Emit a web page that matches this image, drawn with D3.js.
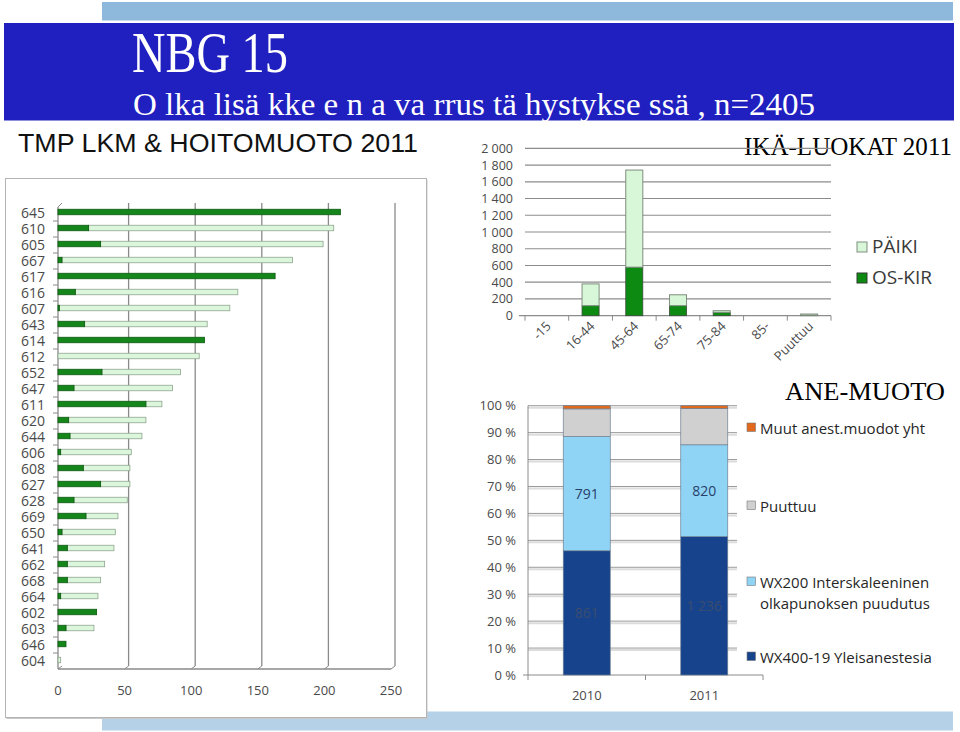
<!DOCTYPE html>
<html>
<head>
<meta charset="utf-8">
<script src="https://cdn.jsdelivr.net/npm/d3@7"></script>
<style>
  html, body { margin: 0; padding: 0; background: #fff; }
  svg { display: block; }
  .lbl { font-family: "Open Sans", "DejaVu Sans", sans-serif; fill: #4a4a4a; }
  .ser { font-family: "Liberation Serif", "DejaVu Serif", serif; }
</style>
</head>
<body>
<div id="chart"></div>
<script>
// TMP LKM & HOITOMUOTO 2011 (left chart)
var tmpCodes = ["645","610","605","667","617","616","607","643","614","612","652","647","611","620","644",
                "606","608","627","628","669","650","641","662","668","664","602","603","646","604"];
var tmpOsKir = [212,23,32,3,163,13,1,20,110,0,33,12,66,8,9,2,19,32,12,21,3,7,7,7,2,29,6,6,0];
var tmpPaiki = [0,184,167,173,0,122,128,92,0,106,59,74,12,58,54,53,35,22,40,24,40,35,28,25,28,0,21,0,2];
var tmpTicks = [0, 50, 100, 150, 200, 250];

// IKÄ-LUOKAT 2011 (top right)
var ageGroups = ["-15","16-44","45-64","65-74","75-84","85-","Puuttuu"];
var ageOsKir = [0,120,580,120,40,0,5];
var agePaiki = [0,260,1160,130,20,0,15];
var ageTicks = [0,200,400,600,800,1000,1200,1400,1600,1800,2000];

// ANE-MUOTO (bottom right)
var aneYears = ["2010","2011"];
var aneWx400 = [861,1236];
var aneWx200 = [791,820];
var anePuuttuu = [192,325];
var aneMuut = [22,24];
var aneTicks = [0,0.1,0.2,0.3,0.4,0.5,0.6,0.7,0.8,0.9,1];

var W = 960, H = 732;
var svg = d3.select("#chart").append("svg").attr("width", W).attr("height", H);

// ---- slide frame ----
svg.append("rect").attr("x", 102).attr("y", 2).attr("width", 851).attr("height", 18.5).attr("fill", "#8fb9dc");
svg.append("rect").attr("x", 4).attr("y", 23).attr("width", 950).attr("height", 97.5).attr("fill", "#2020c0");
svg.append("rect").attr("x", 102).attr("y", 711.5).attr("width", 851).attr("height", 19).attr("fill", "#b5d1e8");

svg.append("text").attr("class", "ser").attr("x", 132).attr("y", 72)
    .attr("font-size", 58).attr("fill", "#fff")
    .attr("textLength", 156).attr("lengthAdjust", "spacingAndGlyphs")
    .text("NBG 15");
svg.append("text").attr("class", "ser").attr("x", 133).attr("y", 115)
    .attr("font-size", 32).attr("fill", "#fff")
    .attr("textLength", 682).attr("lengthAdjust", "spacingAndGlyphs")
    .text("O lka lisä kke e n a va rrus tä hystykse ssä , n=2405");

svg.append("text").attr("x", 18).attr("y", 152)
    .attr("font-family", "'Liberation Sans', Arial, sans-serif")
    .attr("font-size", 26).attr("fill", "#111")
    .attr("textLength", 400).attr("lengthAdjust", "spacingAndGlyphs")
    .text("TMP LKM & HOITOMUOTO 2011");

// ---- left chart ----
var box = svg.append("g");
box.append("rect").attr("x", 6.5).attr("y", 180).attr("width", 421).attr("height", 539)
    .attr("fill", "#c8c8c8");
box.append("rect").attr("x", 5.5).attr("y", 178.5).attr("width", 421).attr("height", 539)
    .attr("fill", "#fff").attr("stroke", "#b4b4b4");

var xL = d3.scaleLinear().domain([0, 250]).range([58, 391]);
var yL = d3.scaleBand().domain(tmpCodes).range([205, 669]);
var depth = 4;

// back wall grid
box.selectAll("line.grid").data(tmpTicks.slice(1)).enter().append("line")
    .attr("x1", function(d) { return xL(d) + depth; }).attr("x2", function(d) { return xL(d) + depth; })
    .attr("y1", 203).attr("y2", 666)
    .attr("stroke", "#8a8a8a").attr("stroke-width", 1.3);
box.selectAll("line.floor").data(tmpTicks).enter().append("line")
    .attr("x1", function(d) { return xL(d); }).attr("x2", function(d) { return xL(d) + depth; })
    .attr("y1", 669).attr("y2", 666)
    .attr("stroke", "#8a8a8a");
box.append("line").attr("x1", xL(0)).attr("x2", xL(0)).attr("y1", 207).attr("y2", 669)
    .attr("stroke", "#8a8a8a").attr("stroke-width", 1.3);
box.append("line").attr("x1", xL(0)).attr("x2", xL(0) + depth).attr("y1", 207).attr("y2", 203)
    .attr("stroke", "#8a8a8a");
box.append("line").attr("x1", xL(0)).attr("x2", xL(250)).attr("y1", 669).attr("y2", 669)
    .attr("stroke", "#8a8a8a").attr("stroke-width", 1.3);

// category ticks
box.selectAll("line.ct").data(tmpCodes.slice(1)).enter().append("line")
    .attr("x1", xL(0) - 5).attr("x2", xL(0))
    .attr("y1", function(d) { return yL(d); }).attr("y2", function(d) { return yL(d); })
    .attr("stroke", "#8a8a8a");

box.selectAll("text.cat").data(tmpCodes).enter().append("text")
    .attr("class", "lbl")
    .attr("x", 45).attr("y", function(d) { return yL(d) + yL.bandwidth() / 2 + 5; })
    .attr("text-anchor", "end").attr("font-size", 14)
    .text(function(d) { return d; });

box.selectAll("text.xt").data(tmpTicks).enter().append("text")
    .attr("class", "lbl")
    .attr("x", function(d) { return xL(d); }).attr("y", 695)
    .attr("text-anchor", "middle").attr("font-size", 13)
    .text(function(d) { return d; });

var tmpRows = tmpCodes.map(function(c, i) { return { code: c, os: tmpOsKir[i], pa: tmpPaiki[i] }; });
var barH = 5.5;
// light (PÄIKI) segment
box.selectAll("rect.pa").data(tmpRows.filter(function(d) { return d.pa > 0; })).enter().append("rect")
    .attr("x", function(d) { return xL(d.os); })
    .attr("y", function(d) { return yL(d.code) + yL.bandwidth() / 2 - barH / 2 - 1; })
    .attr("width", function(d) { return xL(d.os + d.pa) - xL(d.os); })
    .attr("height", barH)
    .attr("fill", "#dcf6dc").attr("stroke", "#8ea58e").attr("stroke-width", 0.8);
// dark (OS-KIR) segment
box.selectAll("rect.os").data(tmpRows.filter(function(d) { return d.os > 0; })).enter().append("rect")
    .attr("x", xL(0))
    .attr("y", function(d) { return yL(d.code) + yL.bandwidth() / 2 - barH / 2 - 1; })
    .attr("width", function(d) { return xL(d.os) - xL(0); })
    .attr("height", barH)
    .attr("fill", "#14861a").attr("stroke", "#0b5a0f").attr("stroke-width", 0.8);

// ---- top right chart: IKÄ-LUOKAT ----
svg.append("text").attr("class", "ser").attr("x", 744).attr("y", 155)
    .attr("font-size", 25).attr("fill", "#000")
    .attr("textLength", 208).attr("lengthAdjust", "spacingAndGlyphs")
    .text("IKÄ-LUOKAT 2011");

var fi = d3.formatLocale({ decimal: ",", thousands: "\u00a0", grouping: [3], currency: ["", "€"] });
var yA = d3.scaleLinear().domain([0, 2000]).range([315.7, 148.3]);
var xA = d3.scaleBand().domain(ageGroups).range([525, 831]);

var ga = svg.append("g");
ga.selectAll("line.g").data(ageTicks.slice(1)).enter().append("line")
    .attr("x1", 525).attr("x2", 831)
    .attr("y1", function(d) { return yA(d); }).attr("y2", function(d) { return yA(d); })
    .attr("stroke", "#8c8c8c").attr("stroke-width", 1.2);
ga.selectAll("text.yt").data(ageTicks).enter().append("text")
    .attr("class", "lbl")
    .attr("x", 513).attr("y", function(d) { return yA(d) + 4.5; })
    .attr("text-anchor", "end").attr("font-size", 12.5)
    .text(function(d) { return fi.format(",")(d); });
ga.append("line").attr("x1", 519).attr("x2", 831).attr("y1", yA(0)).attr("y2", yA(0))
    .attr("stroke", "#8c8c8c").attr("stroke-width", 1.2);
ga.selectAll("line.xt").data(ageGroups.concat(["end"])).enter().append("line")
    .attr("x1", function(d, i) { return 525 + i * xA.step(); })
    .attr("x2", function(d, i) { return 525 + i * xA.step(); })
    .attr("y1", yA(0)).attr("y2", yA(0) + 5)
    .attr("stroke", "#8c8c8c");

var ageRows = ageGroups.map(function(c, i) { return { cat: c, os: ageOsKir[i], pa: agePaiki[i] }; });
var bwA = xA.bandwidth() * 0.39;
ga.selectAll("rect.os").data(ageRows.filter(function(d) { return d.os > 0; })).enter().append("rect")
    .attr("x", function(d) { return xA(d.cat) + (xA.bandwidth() - bwA) / 2; })
    .attr("y", function(d) { return yA(d.os); })
    .attr("width", bwA).attr("height", function(d) { return yA(0) - yA(d.os); })
    .attr("fill", "#0d8a12").attr("stroke", "#3c4a3c").attr("stroke-width", 0.8);
ga.selectAll("rect.pa").data(ageRows.filter(function(d) { return d.pa > 0; })).enter().append("rect")
    .attr("x", function(d) { return xA(d.cat) + (xA.bandwidth() - bwA) / 2; })
    .attr("y", function(d) { return yA(d.os + d.pa); })
    .attr("width", bwA).attr("height", function(d) { return yA(d.os) - yA(d.os + d.pa); })
    .attr("fill", "#d8f6d8").attr("stroke", "#7f8f7f").attr("stroke-width", 1);

ga.selectAll("text.xc").data(ageGroups).enter().append("text")
    .attr("class", "lbl")
    .attr("transform", function(d) {
        return "translate(" + (xA(d) + xA.bandwidth() / 2 + 5) + "," + 327 + ") rotate(-45)";
    })
    .attr("text-anchor", "end").attr("font-size", 13)
    .text(function(d) { return d; });

var ageLegend = [
    { name: "PÄIKI", fill: "#d8f6d8", stroke: "#7f8f7f", y: 242 },
    { name: "OS-KIR", fill: "#0d8a12", stroke: "#2f3a2f", y: 273 }
];
ga.selectAll("rect.lg").data(ageLegend).enter().append("rect")
    .attr("x", 857).attr("y", function(d) { return d.y; })
    .attr("width", 10).attr("height", 10)
    .attr("fill", function(d) { return d.fill; }).attr("stroke", function(d) { return d.stroke; });
ga.selectAll("text.lg").data(ageLegend).enter().append("text")
    .attr("class", "lbl")
    .attr("x", 872).attr("y", function(d) { return d.y + 11; })
    .attr("font-size", 19).style("fill", "#3a3a3a")
    .text(function(d) { return d.name; });

// ---- bottom right chart: ANE-MUOTO ----
svg.append("text").attr("class", "ser").attr("x", 785).attr("y", 400)
    .attr("font-size", 25).attr("fill", "#000")
    .attr("textLength", 160).attr("lengthAdjust", "spacingAndGlyphs")
    .text("ANE-MUOTO");

var yP = d3.scaleLinear().domain([0, 1]).range([675, 405.7]);
var xP = d3.scaleBand().domain(aneYears).range([528, 763]);
var gp = svg.append("g");

gp.selectAll("line.gs").data(aneTicks.slice(1)).enter().append("line")
    .attr("x1", 528).attr("x2", 737)
    .attr("y1", function(d) { return yP(d) + 2; }).attr("y2", function(d) { return yP(d) + 2; })
    .attr("stroke", "#dcdcdc").attr("stroke-width", 2);
gp.selectAll("line.g").data(aneTicks.slice(1)).enter().append("line")
    .attr("x1", 528).attr("x2", 737)
    .attr("y1", function(d) { return yP(d); }).attr("y2", function(d) { return yP(d); })
    .attr("stroke", "#9a9a9a").attr("stroke-width", 1);
gp.selectAll("text.yt").data(aneTicks).enter().append("text")
    .attr("class", "lbl")
    .attr("x", 516).attr("y", function(d) { return yP(d) + 4.5; })
    .attr("text-anchor", "end").attr("font-size", 13)
    .text(function(d) { return Math.round(d * 100) + " %"; });
gp.append("line").attr("x1", 523).attr("x2", 763).attr("y1", yP(0)).attr("y2", yP(0))
    .attr("stroke", "#8c8c8c").attr("stroke-width", 1.2);
gp.append("line").attr("x1", 528).attr("x2", 528).attr("y1", yP(1)).attr("y2", yP(0))
    .attr("stroke", "#8c8c8c").attr("stroke-width", 1);
gp.selectAll("line.xt").data([0, 1, 2]).enter().append("line")
    .attr("x1", function(d) { return 528 + d * xP.step(); }).attr("x2", function(d) { return 528 + d * xP.step(); })
    .attr("y1", yP(0)).attr("y2", yP(0) + 5)
    .attr("stroke", "#8c8c8c");
gp.selectAll("text.xc").data(aneYears).enter().append("text")
    .attr("class", "lbl")
    .attr("x", function(d) { return xP(d) + xP.bandwidth() / 2; }).attr("y", 700)
    .attr("text-anchor", "middle").attr("font-size", 13)
    .text(function(d) { return d; });

var aneKeys = ["wx400", "wx200", "puuttuu", "muut"];
var aneColors = { wx400: "#17438c", wx200: "#8fd4f5", puuttuu: "#d0d0d0", muut: "#e2691c" };
var aneRows = aneYears.map(function(y, i) {
    var tot = aneWx400[i] + aneWx200[i] + anePuuttuu[i] + aneMuut[i];
    return { year: y, wx400: aneWx400[i] / tot, wx200: aneWx200[i] / tot,
             puuttuu: anePuuttuu[i] / tot, muut: aneMuut[i] / tot,
             n400: aneWx400[i], n200: aneWx200[i] };
});
var stack = d3.stack().keys(aneKeys)(aneRows);
var bwP = xP.bandwidth() * 0.4;

stack.forEach(function(s) {
    gp.selectAll("rect.s-" + s.key).data(s).enter().append("rect")
        .attr("x", function(d) { return xP(d.data.year) + (xP.bandwidth() - bwP) / 2; })
        .attr("y", function(d) { return yP(d[1]); })
        .attr("width", bwP).attr("height", function(d) { return yP(d[0]) - yP(d[1]); })
        .attr("fill", aneColors[s.key])
        .attr("stroke", "#6d7f92").attr("stroke-width", 0.7);
});

// value labels
var labelRows = [];
stack[0].forEach(function(d) { labelRows.push({ x: xP(d.data.year) + xP.bandwidth() / 2, y: yP((d[0] + d[1]) / 2), t: fi.format(",")(d.data.n400), c: "#3a4d70" }); });
stack[1].forEach(function(d) { labelRows.push({ x: xP(d.data.year) + xP.bandwidth() / 2, y: yP((d[0] + d[1]) / 2), t: fi.format(",")(d.data.n200), c: "#28406a" }); });
gp.selectAll("text.val").data(labelRows).enter().append("text")
    .attr("class", "lbl")
    .attr("x", function(d) { return d.x; }).attr("y", function(d) { return d.y + 5; })
    .attr("text-anchor", "middle").attr("font-size", 14)
    .style("fill", function(d) { return d.c; })
    .text(function(d) { return d.t; });

var aneLegend = [
    { key: "muut", lines: ["Muut anest.muodot yht"], y: 423 },
    { key: "puuttuu", lines: ["Puuttuu"], y: 501 },
    { key: "wx200", lines: ["WX200 Interskaleeninen", "olkapunoksen puudutus"], y: 577 },
    { key: "wx400", lines: ["WX400-19 Yleisanestesia"], y: 652 }
];
aneLegend.forEach(function(l) {
    gp.append("rect").attr("x", 747).attr("y", l.y).attr("width", 8.5).attr("height", 8.5)
        .attr("fill", aneColors[l.key]).attr("stroke", "#777").attr("stroke-width", 0.6);
    l.lines.forEach(function(t, j) {
        gp.append("text").attr("class", "lbl")
            .attr("x", 760).attr("y", l.y + 11 + j * 21)
            .attr("font-size", 15).style("fill", "#262626")
            .text(t);
    });
});
</script>
</body>
</html>
